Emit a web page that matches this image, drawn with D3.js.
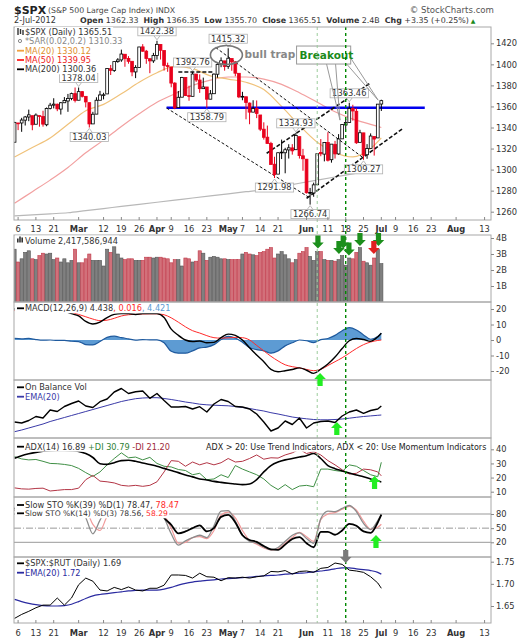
<!DOCTYPE html>
<html>
<head>
<meta charset="utf-8">
<script src="https://cdn.jsdelivr.net/npm/d3@7/dist/d3.min.js"></script>
<style>
  body { margin: 0; background: #fff; }
  svg text { font-family: "DejaVu Sans", Verdana, sans-serif; }
</style>
</head>
<body>
<svg id="chart" width="529" height="640"></svg>
<script>
// ---------------- data ----------------
var holidays = ["2012-02-20", "2012-04-06", "2012-05-28", "2012-07-04"];
var prevClose = 1325.5;   // close before the first bar (Feb 2)

// daily OHLC, Feb 3 .. Jul 2 2012
var priceOpen = [1326,1344.3,1344.3,1347,1350,1351.2,1343.1,1351.3,1350.5,1342.6,1358.1,1361.2,1362.1,1357.5,1363.5,1365.2,1367.6,1372.2,1365.9,1374.1,
  1369.6,1363.6,1343.4,1352.7,1365.9,1370.8,1371.9,1395.9,1394.2,1402.6,1404.2,1409.6,1405.5,1402.9,1392.8,1397.1,1416.6,1412.5,1405.4,1403.3,
  1408.5,1418.9,1413.1,1398.8,1397.5,1382.2,1358.9,1368.8,1387.6,1370.3,1369.6,1390.8,1385.1,1376.9,1378.5,1366.9,1372.1,1390.6,1400.2,1403.3,
  1397.9,1405.5,1402.3,1391.5,1368.8,1369.2,1363.2,1354.6,1358.1,1351.9,1338.4,1330.8,1324.8,1305.1,1295.7,1316.1,1316,1318.7,1320.6,1318.9,
  1331.3,1313.1,1309.9,1278.3,1277.8,1285.6,1316.2,1314.7,1325.7,1309.4,1324,1314.9,1329.2,1342.4,1344.8,1358,1355.4,1325.9,1334.9,1314.1,
  1320.1,1331.5,1330.1,1362.3];
var priceHigh = [1345.3,1344.4,1349.2,1351,1357,1351.2,1353.4,1351.3,1355.9,1359,1363.4,1367.8,1362.7,1364.2,1368.9,1371.9,1373.1,1378,1378,1374.5,
  1369.6,1363.6,1354.9,1368.7,1374.8,1373,1396.1,1399.4,1402.6,1405.9,1414,1409.6,1407.8,1402.9,1399.2,1416.6,1419.2,1413.7,1405.4,1410.9,
  1422.4,1419.1,1413.1,1401.6,1397.5,1383,1374.7,1388.1,1387.6,1379.7,1392.8,1390.8,1390.5,1387.4,1378.5,1375.6,1391.4,1402.1,1406.6,1403.3,
  1415.3,1405.5,1403.1,1391.5,1373.9,1369.2,1363.7,1365.9,1365.7,1351.9,1344.9,1341.8,1326.4,1312.2,1316.4,1328.5,1320.7,1324.1,1324.2,1334.9,
  1331.3,1319.7,1309.9,1282.6,1287.6,1315.1,1329,1325.8,1335.5,1324.3,1327.3,1333.7,1343.3,1348.2,1363.5,1361.6,1358.3,1337.8,1334.9,1324.2,
  1334.4,1331.5,1362.2,1366.4];
var priceLow = [1326,1337.5,1335.9,1341.9,1346,1337.4,1343.1,1340.8,1340.8,1341.2,1357.2,1358.1,1355.5,1352.3,1363.5,1354.9,1365.9,1363.8,1365.9,1368.5,
  1359.1,1340,1343.4,1352.7,1365.9,1366.7,1371.9,1389.9,1392.8,1401.5,1402.4,1397.7,1400.6,1388.7,1386.9,1397.1,1411.9,1400.5,1391.6,1401.4,
  1404.5,1404.6,1394.1,1392.9,1378.2,1357.4,1358.9,1368.8,1369.9,1365.4,1369.6,1383.3,1372.9,1376.9,1358.8,1366.8,1372.1,1387.3,1397.3,1394,
  1395.7,1393.9,1388.7,1367.9,1365.9,1347.8,1343.1,1354.6,1348.9,1336.6,1328.5,1324.8,1304.9,1292,1295.7,1310,1296.5,1310.5,1314.2,1318.9,
  1310.5,1298.9,1277.3,1266.7,1274.2,1285.6,1312.7,1307.8,1307.7,1306.6,1310.5,1314.1,1329.2,1338.6,1344.8,1346.5,1324.4,1325.9,1309.3,1310.3,
  1320.1,1313.3,1330.1,1355.7];
var priceClose = [1344.9,1344.3,1347.1,1350,1352,1342.6,1351.8,1350.5,1343.2,1358,1361.2,1362.2,1357.7,1363.5,1365.7,1367.6,1372.2,1365.7,1374.1,1369.6,
  1364.3,1343.4,1352.6,1365.9,1370.9,1371.1,1396,1394.3,1402.6,1404.2,1409.8,1405.5,1402.9,1392.8,1397.1,1416.5,1412.5,1405.5,1403.3,1408.5,
  1419,1413.4,1399,1398.1,1382.2,1358.6,1368.7,1387.6,1370.3,1369.6,1390.8,1385.1,1376.9,1378.5,1366.9,1372,1390.7,1400,1403.4,1397.9,
  1405.8,1402.3,1391.6,1369.1,1369.6,1363.7,1354.6,1358,1353.4,1338.4,1330.7,1324.8,1304.9,1295.2,1316,1316.6,1318.9,1320.7,1317.8,1332.4,
  1313.3,1310.3,1278,1278.2,1285.5,1315.1,1315,1325.7,1308.9,1324.2,1314.9,1329.1,1342.8,1344.8,1358,1355.7,1325.5,1335,1313.7,1320,
  1331.9,1329,1362.2,1365.5];
// daily volume in billions
var volume = [3.3,2.5,2.7,3.1,3.2,2.7,2.65,2.9,3.05,3.0,3.05,2.65,2.75,2.5,2.7,2.45,2.6,3.3,2.45,2.45,
  2.7,3.0,2.6,2.6,2.6,2.25,3.3,3.1,3.45,3.0,2.75,2.65,2.7,2.7,2.6,2.6,2.6,2.8,2.8,2.75,
  2.8,2.8,2.75,2.7,2.45,2.65,2.65,2.25,2.75,2.7,2.5,2.55,3.2,3.05,2.6,2.8,2.85,2.8,2.7,2.7,
  2.65,2.65,2.65,2.65,3.0,3.1,3.0,2.95,2.9,3.1,3.15,3.3,3.4,2.75,3.0,3.15,2.95,2.7,2.45,2.65,
  3.05,3.15,3.4,2.85,2.6,3.15,3.15,2.65,2.6,2.6,2.55,2.65,2.9,2.3,2.75,2.7,3.1,3.4,2.55,2.45,
  2.3,2.75,3.3,2.4];

// moving averages, one value every fifth session
var maDays = d3.range(-1, 100, 5).concat([102]);
var ma20 = [1312,1321,1330,1343,1356,1362,1372,1383,1392,1398,1396,1389,1386,1383,1376,1360,1342,1326,1316,1312,1320,1330.1];
var ma50 = [1268,1279,1290,1302,1316,1328,1341,1353,1364,1372,1380,1385,1388,1388,1386,1381,1373,1364,1355,1348,1343,1340];
var ma200 = [1256,1257,1258,1259,1261,1263,1265,1267,1269,1271,1273,1275,1277,1279,1281,1284,1287,1290,1293,1296,1299,1300.4];

// indicators, one value every second session
var knotDays = d3.range(-1, 102, 2).concat([102]);
var macdLine = [20,20,20.5,20,19.5,19.5,19,18.5,17,15.5,12,10.3,11.5,14.5,16.5,17,17,16.5,17,17,
  17,14.5,7,3,0,-1,-0.6,-1.8,-1.5,1.5,3.8,3,0,-5,-9.7,-14,-19,-20.5,-19.8,-19,
  -18,-19.5,-21.5,-18.8,-15.5,-11,-5.5,-0.5,1,0.3,-0.8,2,4.4];
var macdSignal = [19,19.3,19.5,19.7,19.6,19.5,19.3,18.8,17.8,16.5,15,13.5,12.5,12.8,14,15.5,16.3,16.6,16.8,16.9,
  16.9,16.3,14.3,11.5,8.5,6,4.5,2.8,1.5,1.2,1.4,1.7,1.5,0,-3.5,-7,-10.5,-13.5,-16,-17.2,
  -18,-19,-19.8,-19,-16.5,-14,-11.5,-8.5,-5.5,-3,-1.3,-0.3,0];
var obv = [17,16,18.5,22.5,21,29,27.5,32.5,35.5,38,33,31.5,37.3,40,47,50.5,45.5,47.3,48,40.7,
  45.5,38.5,32,32,32.5,30,32.3,27,35,39.5,37.5,32.5,32,30,25,17,8,11,18,14.5,
  21,11,16,17.5,18,16.5,23,27,29,25.7,28.5,30,33];
var obvEma = [7.3,9,11,13,15,17.5,19.5,21.5,23.5,25.5,27.5,29.5,31.5,33.5,35.5,37.5,39,40.3,41,41.3,
  41.3,40.5,39.5,38.3,37,36,34.8,34.2,33.8,33.5,33.2,32.5,31.5,30.5,29.2,28,26.3,25,23.5,22,
  21,20.2,19.5,19.2,19.2,19.5,20,20.8,21.7,22.5,23.1,23.7,24];
var adx = [33.6,35.5,36.8,37.8,38.6,39,39.2,39.2,39,38.5,37,34.2,29.8,29.3,30.5,32,32.2,31.5,30.3,29.2,
  28,26.5,25,23.5,21.8,20.5,19,18.3,17.3,16.6,16,15.5,15,15.5,18.5,24,28.5,31,32.5,33.5,
  34.5,35.5,37,33.5,28.5,26.3,24.7,23.2,21.8,20.6,19,17.5,16.9];
var plusDI = [34.8,33.2,32.5,32.8,31.5,30,29.8,29.3,28.5,26.5,23.5,20.8,24,29,33.5,37.5,34,34.5,32.5,34.3,
  30,28,27.5,25.7,25,22,23,18.5,19,22,20,28.5,26,24,22,19,14.5,11.5,15,11.5,
  14,14.5,13.5,26,26,25,24.3,29,28,25,22,20.6,30.8];
var minusDI = [12.7,12,11.8,12.3,12.5,10.5,11,11.5,11.5,12.5,18.5,21.5,17.5,17,16.2,14.5,14,14.5,13.8,14.5,
  17,24,32,31.5,28,31,29,30.5,29,30.5,33.5,31,31.5,33.5,36,33,34,33.8,36,37.5,
  40,37,38.3,36,32,29,25.5,22.5,23,26,25.5,24,21.2];
var stoK39 = [92,90,93,91,95,94,96,95,97,98,90,82,86,95,96,98,95,93,97,94,
  96,72,57,39,43,50,56,43,50,74,78,62,35,25,21,12,5,4,15,27,
  31,18,9.5,42,42,36,45,59,55,43,40,62,78.5];
var stoK14 = [88,82,90,85,93,90,94,88,92,95,72,38,67,90,92,96,85,80,92,85,
  94,72,38,14,23,30,35,30,55,86,87,65,35,22,18,10,4,9,22,35,
  40,28,18,70,86,85,92,98,85,60,47,66,78.6];
var stoD3 = [88,85,87,88,90,91,92,91,91,93,88,58,45,75,90,93,90,84,88,88,
  90,78,50,18,20,30,32,28,45,78,84,72,45,24,16,8,4,6,18,30,
  41,32,22,68,80,83,90,96,88,65,48,52,58.3];
var spxRut = [1.622,1.631,1.638,1.646,1.652,1.652,1.668,1.652,1.668,1.698,1.713,1.706,1.686,1.684,1.692,1.687,1.693,1.686,1.684,1.69,
  1.69,1.697,1.72,1.72,1.719,1.713,1.724,1.716,1.715,1.707,1.714,1.713,1.715,1.713,1.716,1.718,1.728,1.727,1.73,1.722,
  1.728,1.729,1.726,1.735,1.737,1.747,1.744,1.731,1.729,1.726,1.716,1.702,1.69];
var spxRutEma = [1.665,1.66,1.656,1.653,1.651,1.65,1.65,1.651,1.654,1.66,1.667,1.673,1.676,1.678,1.68,1.682,1.684,1.685,1.686,1.686,
  1.686,1.688,1.692,1.697,1.701,1.704,1.706,1.708,1.709,1.711,1.712,1.713,1.714,1.715,1.717,1.718,1.719,1.72,1.722,1.723,
  1.724,1.725,1.727,1.729,1.731,1.734,1.736,1.736,1.734,1.732,1.73,1.726,1.722];

// date axis
var tickDates = ["2012-02-06","2012-02-13","2012-02-21","2012-03-01","2012-03-12","2012-03-19","2012-03-26","2012-04-02","2012-04-09",
  "2012-04-16","2012-04-23","2012-05-01","2012-05-07","2012-05-14","2012-05-21","2012-06-01","2012-06-11","2012-06-18","2012-06-25",
  "2012-07-02","2012-07-09","2012-07-16","2012-07-23","2012-08-01","2012-08-13"];
var tickLabels = ["6","13","21","Mar","12","19","26","Apr","9","16","23","May","7","14","21","Jun","11","18","25","Jul","9","16","23","Aug","13"];

// annotations (session date, price)
var peakLabels = [["2012-04-02",1422.38,"up"],["2012-05-01",1415.32,"up"],["2012-04-17",1392.76,"up"],["2012-03-01",1378.04,"up"],
  ["2012-03-06",1340.03,"down"],["2012-04-23",1358.79,"down"],["2012-05-29",1334.93,"up"],["2012-06-19",1363.46,"up"],
  ["2012-05-18",1291.98,"down"],["2012-06-04",1266.74,"down"],["2012-06-25",1309.27,"down"]];
// dashed trend lines: [fromSession, fromPrice, toSession, toPrice] in session index units
var trendLines = [[45, 1392.76, 55, 1392.76], [55.5, 1416, 97, 1311], [41.7, 1358.5, 81.5, 1274],
  [69.8, 1315.5, 98.8, 1382], [81, 1272.7, 108, 1339]];
var supportLine = [41.7, 114.2, 1358.8];
var markerDates = [["2012-06-06", "#9ccc9c", 1], ["2012-06-18", "#008800", 1.4]];

// ---------------- layout ----------------
var svg = d3.select("#chart");
var left = 14, right = 491;
var panels = {
  price: {top: 27, bottom: 220},
  vol:   {top: 235, bottom: 302},
  macd:  {top: 302, bottom: 380},
  obv:   {top: 380, bottom: 438},
  adx:   {top: 438, bottom: 497},
  sto:   {top: 497, bottom: 557},
  ratio: {top: 557, bottom: 623}
};

var fmt = d3.utcFormat("%Y-%m-%d");
var sessions = d3.utcDay.range(new Date("2012-02-03"), new Date("2012-09-01"))
  .filter(function(d){ return d.getUTCDay() % 6 !== 0 && holidays.indexOf(fmt(d)) < 0; })
  .map(fmt);
function dayIndex(s){ return sessions.indexOf(s) - 1; }

var x = d3.scaleLinear().domain([-1.15, 132.8]).range([left, right]);
var yP = d3.scaleLinear().domain([1260, 1420]).range([211.7, 43.3]);
var yV = d3.scaleLinear().domain([0, 4]).range([302, 238]);
var yM = d3.scaleLinear().domain([-20, 20]).range([371, 309]);
var yO = d3.scaleLinear().domain([0, 58]).range([439, 381]);
var yA = d3.scaleLinear().domain([10, 40]).range([491.7, 449.3]);
var yS = d3.scaleLinear().domain([20, 80]).range([542.3, 514]);
var yR = d3.scaleLinear().domain([1.65, 1.75]).range([606, 561.7]);

var defs = svg.append("defs");
var layers = {};
Object.keys(panels).forEach(function(name){
  var p = panels[name];
  defs.append("clipPath").attr("id", "clip-" + name)
    .append("rect").attr("x", left).attr("y", p.top).attr("width", right - left).attr("height", p.bottom - p.top);
  layers[name] = svg.append("g").attr("clip-path", "url(#clip-" + name + ")");
});

function knotLine(g, days, vals, y, color, width, curve){
  g.append("path")
    .datum(days.map(function(d, k){ return [d, vals[k]]; }))
    .attr("fill", "none")
    .attr("stroke", color)
    .attr("stroke-width", width)
    .attr("stroke-linejoin", "round")
    .attr("d", d3.line().x(function(p){ return x(p[0]); }).y(function(p){ return y(p[1]); }).curve(curve || d3.curveMonotoneX));
}

// ---------------- price panel ----------------
var gp = layers.price;
knotLine(gp, maDays, ma200, yP, "#b8b8b8", 1.2);
knotLine(gp, maDays, ma50, yP, "#f2a0a0", 1.2);
knotLine(gp, maDays, ma20, yP, "#f0c27a", 1.2);

gp.append("line")
  .attr("x1", x(supportLine[0])).attr("x2", x(supportLine[1]))
  .attr("y1", yP(supportLine[2])).attr("y2", yP(supportLine[2]))
  .attr("stroke", "#0000ee").attr("stroke-width", 2.5);

gp.selectAll("line.trend").data(trendLines).enter().append("line")
  .attr("class", "trend")
  .attr("x1", function(d){ return x(d[0]); }).attr("y1", function(d){ return yP(d[1]); })
  .attr("x2", function(d){ return x(d[2]); }).attr("y2", function(d){ return yP(d[3]); })
  .attr("stroke", "#111").attr("stroke-width", function(d, k){ return k === 1 || k === 2 ? 1 : 1.6; })
  .attr("stroke-dasharray", function(d, k){ return k === 1 || k === 2 ? "3,2" : "4,2"; });

var candles = priceClose.map(function(c, k){
  var prev = k === 0 ? prevClose : priceClose[k - 1];
  return {day: k - 1, o: priceOpen[k], h: priceHigh[k], l: priceLow[k], c: c,
    color: c >= prev ? "#000" : "#e8001c"};
});
gp.selectAll("line.wick").data(candles).enter().append("line")
  .attr("class", "wick")
  .attr("x1", function(d){ return x(d.day); }).attr("x2", function(d){ return x(d.day); })
  .attr("y1", function(d){ return yP(d.h); }).attr("y2", function(d){ return yP(d.l); })
  .attr("stroke", function(d){ return d.color; }).attr("stroke-width", 1);
gp.selectAll("rect.body").data(candles).enter().append("rect")
  .attr("class", "body")
  .attr("x", function(d){ return x(d.day) - 1.4; })
  .attr("width", 2.8)
  .attr("y", function(d){ return yP(Math.max(d.o, d.c)); })
  .attr("height", function(d){ return Math.max(0.8, Math.abs(yP(d.o) - yP(d.c))); })
  .attr("fill", function(d){ return d.c > d.o ? "#fff" : d.color; })
  .attr("stroke", function(d){ return d.color; }).attr("stroke-width", 0.8);

// peak / trough labels
peakLabels.forEach(function(pl){
  var cx = x(dayIndex(pl[0])), py = yP(pl[1]);
  var g = gp.append("g");
  var t = g.append("text").attr("x", cx).attr("text-anchor", "middle")
    .attr("font-family", "Liberation Sans, Arial, sans-serif").attr("font-size", 8.3).attr("fill", "#333")
    .text(pl[1].toFixed(2));
  var w = t.node().getComputedTextLength() + 4, h = 9;
  var top = pl[2] === "up" ? py - 5 - h : py + 5;
  var edge = pl[2] === "up" ? top + h : top;
  g.insert("path", "text")
    .attr("d", "M" + (cx - 3) + "," + edge + "L" + cx + "," + (pl[2] === "up" ? py - 1 : py + 1) + "L" + (cx + 3) + "," + edge)
    .attr("fill", "#fff").attr("stroke", "#aaa").attr("stroke-width", 0.8);
  g.insert("rect", "text").attr("x", cx - w / 2).attr("y", top).attr("width", w).attr("height", h)
    .attr("fill", "#fff").attr("stroke", "#b0b0b0").attr("stroke-width", 0.8);
  t.attr("y", top + 7.4);
});

// bull trap circle
gp.append("ellipse").attr("cx", x(58.5)).attr("cy", yP(1408.9)).attr("rx", 16).attr("ry", 9.5)
  .attr("fill", "none").attr("stroke", "#777").attr("stroke-width", 1.6);
gp.append("text").attr("x", x(63.6)).attr("y", yP(1405.6))
  .attr("font-size", 10.5).attr("font-weight", "bold").attr("fill", "#888").text("bull trap");

// breakout callout
var bx0 = x(78.2), bx1 = x(93.4), by0 = yP(1417.4), by1 = yP(1400.3);
gp.append("path")
  .attr("d", "M" + (bx0 + 30) + "," + by1 + "L" + x(90.4) + "," + yP(1347) + "L" + (bx0 + 39) + "," + by1)
  .attr("fill", "none").attr("stroke", "#999").attr("stroke-width", 1);
gp.append("path")
  .attr("d", "M" + (bx1 - 4) + "," + by1 + "L" + x(101.1) + "," + yP(1366) + "L" + bx1 + "," + (by1 - 6))
  .attr("fill", "none").attr("stroke", "#999").attr("stroke-width", 1);
gp.append("rect").attr("x", bx0).attr("y", by0).attr("width", bx1 - bx0).attr("height", by1 - by0)
  .attr("fill", "#fff").attr("stroke", "#999").attr("stroke-width", 1);
gp.append("text").attr("x", bx0 + 3).attr("y", by1 - 5)
  .attr("font-size", 10.5).attr("font-weight", "bold").attr("fill", "#1a8a1a").text("Breakout");

// ---------------- volume panel ----------------
var gv = layers.vol;
gv.selectAll("rect").data(candles).enter().append("rect")
  .attr("x", function(d){ return x(d.day) - 1.6; })
  .attr("width", 3.2)
  .attr("y", function(d){ return yV(volume[d.day + 1]); })
  .attr("height", function(d){ return yV(0) - yV(volume[d.day + 1]); })
  .attr("fill", function(d){ return d.color === "#000" ? "#808080" : "#d2707a"; })
  .attr("stroke", function(d){ return d.color === "#000" ? "#555" : "#c03848"; })
  .attr("stroke-width", 0.6);

// ---------------- MACD panel ----------------
var gm = layers.macd;
var histPts = knotDays.map(function(d, k){ return [d, macdLine[k] - macdSignal[k]]; });
gm.append("path").datum(histPts)
  .attr("fill", "#5d9bd3").attr("stroke", "none")
  .attr("d", d3.area().x(function(p){ return x(p[0]); }).y0(yM(0)).y1(function(p){ return yM(p[1]); }).curve(d3.curveMonotoneX));
gm.append("path").datum(histPts)
  .attr("fill", "none").attr("stroke", "#1f5a9e").attr("stroke-width", 1.2)
  .attr("d", d3.line().x(function(p){ return x(p[0]); }).y(function(p){ return yM(p[1]); }).curve(d3.curveMonotoneX));
knotLine(gm, knotDays, macdSignal, yM, "#ff2a2a", 1);
knotLine(gm, knotDays, macdLine, yM, "#000", 1.4);

// ---------------- OBV panel ----------------
knotLine(layers.obv, knotDays, obvEma, yO, "#3a3aa8", 1);
knotLine(layers.obv, knotDays, obv, yO, "#000", 1.4, d3.curveLinear);

// ---------------- ADX panel ----------------
knotLine(layers.adx, knotDays, plusDI, yA, "#3f8f45", 1, d3.curveLinear);
knotLine(layers.adx, knotDays, minusDI, yA, "#b33545", 1, d3.curveLinear);
knotLine(layers.adx, knotDays, adx, yA, "#000", 1.6);

// ---------------- STO panel ----------------
var gs = layers.sto;
[[80, null], [20, null], [50, "7,2,1,2"]].forEach(function(lv){
  gs.append("line").attr("x1", left).attr("x2", right).attr("y1", yS(lv[0])).attr("y2", yS(lv[0]))
    .attr("stroke", "#999").attr("stroke-width", 1).attr("stroke-dasharray", lv[1]);
});
knotLine(gs, knotDays, stoD3, yS, "#f29a9a", 1.2);
knotLine(gs, knotDays, stoK14, yS, "#8c8c8c", 1.3);
knotLine(gs, knotDays, stoK39, yS, "#000", 1.8);

// ---------------- SPX:RUT panel ----------------
knotLine(layers.ratio, knotDays, spxRutEma, yR, "#2a2aa0", 1.2);
knotLine(layers.ratio, knotDays, spxRut, yR, "#000", 1, d3.curveLinear);

// ---------------- marker lines, frames ----------------
markerDates.forEach(function(m){
  svg.append("line").attr("x1", x(dayIndex(m[0]))).attr("x2", x(dayIndex(m[0])))
    .attr("y1", panels.price.top).attr("y2", panels.ratio.bottom)
    .attr("stroke", m[1]).attr("stroke-width", m[2]).attr("stroke-dasharray", "3,3");
});

Object.keys(panels).forEach(function(name){
  var p = panels[name];
  svg.append("rect").attr("x", left).attr("y", p.top).attr("width", right - left).attr("height", p.bottom - p.top)
    .attr("fill", "none").attr("stroke", "#a8a8a8").attr("stroke-width", 1);
});

// right axes
function rightAxis(y, values, format){
  var g = svg.append("g").attr("transform", "translate(" + right + ",0)")
    .call(d3.axisRight(y).tickValues(values).tickSize(3).tickPadding(2).tickFormat(format));
  g.select(".domain").remove();
  g.selectAll("line").attr("stroke", "#888");
  g.selectAll("text").attr("font-size", 8.3).attr("fill", "#333").attr("font-family", "DejaVu Sans, Verdana, sans-serif");
}
rightAxis(yP, d3.range(1260, 1421, 20), function(d){ return d; });
rightAxis(yV, [1, 2, 3, 4], function(d){ return d + "B"; });
rightAxis(yM, [-20, -10, 0, 10, 20], function(d){ return String(d); });
rightAxis(yA, [10, 20, 30, 40], function(d){ return d; });
rightAxis(yS, [20, 50, 80], function(d){ return d; });
rightAxis(yR, [1.65, 1.70, 1.75], d3.format(".2f"));

// date labels
[[panels.price.bottom, 232], [panels.ratio.bottom, 636]].forEach(function(row){
  tickDates.forEach(function(td, k){
    var tx = x(dayIndex(td));
    svg.append("line").attr("x1", tx).attr("x2", tx).attr("y1", row[0]).attr("y2", row[0] - 3).attr("stroke", "#888");
    svg.append("text").attr("x", tx).attr("y", row[1]).attr("text-anchor", "middle")
      .attr("font-size", 8.3).attr("fill", "#333")
      .attr("font-weight", isNaN(+tickLabels[k]) ? "bold" : null)
      .text(tickLabels[k]);
  });
});

// ---------------- arrows ----------------
function blockArrow(cx, tipY, dir, color){
  var s = dir === "down" ? -1 : 1;
  var pts = [[cx - 2.6, tipY + s * 13], [cx + 2.6, tipY + s * 13], [cx + 2.6, tipY + s * 6], [cx + 5.8, tipY + s * 6],
             [cx, tipY], [cx - 5.8, tipY + s * 6], [cx - 2.6, tipY + s * 6]];
  svg.append("path").attr("d", "M" + pts.join("L") + "Z").attr("fill", color);
}
[[84.2, 3.35], [90.1, 3.0], [91.3, 3.35], [92.9, 2.9], [96, 3.5], [101.2, 3.5]].forEach(function(a){
  blockArrow(x(a[0]), yV(a[1]), "down", "#1c8f1c");
});
blockArrow(x(99.9), yV(3.0), "down", "#e02020");
blockArrow(x(84.8), yM(-21.3), "up", "#22ee22");
blockArrow(x(89.5), yO(17), "up", "#22ee22");
blockArrow(x(100.1), yA(21.1), "up", "#22ee22");
blockArrow(x(100.5), yS(35.5), "up", "#22ee22");
blockArrow(x(92), yR(1.747), "down", "#7a7a7a");

// ---------------- legends ----------------
function legend(lx, ly, key, parts, size){
  var g = svg.append("g");
  var t = g.append("text").attr("x", lx + 9).attr("y", ly).attr("font-size", size || 8.2);
  parts.forEach(function(p){
    t.append("tspan").attr("fill", p[1]).attr("font-weight", p[2] ? "bold" : null).text(p[0]);
  });
  var bb = t.node().getBBox();
  g.insert("rect", "text").attr("x", lx - 1).attr("y", bb.y).attr("width", bb.x + bb.width - lx + 2).attr("height", bb.height)
    .attr("fill", "#fff");
  if (key) {
    g.append("line").attr("x1", lx + 1).attr("x2", lx + 8).attr("y1", ly - 3).attr("y2", ly - 3)
      .attr("stroke", key).attr("stroke-width", 1.8);
  }
  return g;
}
var L = left + 2;
var g0 = legend(L, 35, null, [["$SPX (Daily) 1365.51", "#333"]]);
[0, 2.5, 5].forEach(function(dx, k){
  g0.append("line").attr("x1", L + 2 + dx).attr("x2", L + 2 + dx).attr("y1", 28 + k).attr("y2", 35 - k % 2)
    .attr("stroke", "#333").attr("stroke-width", 1.4);
});
var g1 = legend(L, 44, null, [["*SAR(0.02,0.2) 1310.33", "#888"]]);
g1.append("circle").attr("cx", L + 4).attr("cy", 41).attr("r", 1.6).attr("fill", "none").attr("stroke", "#888");
legend(L, 53.7, "#f0a040", [["MA(20) 1330.12", "#e09030"]]);
legend(L, 63, "#ff2020", [["MA(50) 1339.95", "#ee2020"]]);
legend(L, 72.3, "#000", [["MA(200) 1300.36", "#333"]]);

var gvl = legend(L, 243.5, null, [["Volume 2,417,586,944", "#333"]]);
[[0, 4], [2.2, 6], [4.4, 5]].forEach(function(b){
  gvl.append("rect").attr("x", L + 1 + b[0]).attr("y", 242.5 - b[1]).attr("width", 1.6).attr("height", b[1]).attr("fill", "#333");
});

legend(L, 311.3, "#000", [["MACD(12,26,9) 4.438", "#333"], [", 0.016", "#ff2a2a"], [", 4.421", "#5d9bd3"]]);
legend(L, 390.3, "#000", [["On Balance Vol", "#333"]]);
legend(L, 399.7, "#3a3aa8", [["EMA(20)", "#3a3aa8"]]);
legend(L, 449.7, "#000", [["ADX(14) 16.89 ", "#333"], ["+DI 30.79 ", "#2f7f35"], ["-DI 21.20", "#a02a3a"]]);
legend(197, 449.7, null, [["ADX > 20: Use Trend Indicators, ADX < 20: Use Momentum Indicators", "#222"]], 8);
legend(L, 508, "#000", [["Slow STO %K(39) %D(1) 78.47, ", "#333"], ["78.47", "#ff2a2a"]]);
legend(L, 516.3, "#000", [["Slow STO %K(14) %D(3) 78.56, ", "#333"], ["58.29", "#ff2a2a"]], 7.6);
legend(L, 566.3, "#000", [["$SPX:$RUT (Daily) 1.69", "#333"]]);
legend(L, 575.7, "#2a2aa0", [["EMA(20) 1.72", "#2a2aa0"]]);

// ---------------- header ----------------
svg.append("text").attr("x", 14).attr("y", 13.5).attr("font-size", 11).attr("font-weight", "bold").attr("fill", "#222").text("$SPX");
svg.append("text").attr("x", 48).attr("y", 12.5).attr("font-size", 7.8).attr("fill", "#444")
  .text("(S&P 500 Large Cap Index) INDX");
svg.append("text").attr("x", 494).attr("y", 12.5).attr("text-anchor", "end").attr("font-size", 8.6).attr("fill", "#555")
  .text("© StockCharts.com");
svg.append("text").attr("x", 14).attr("y", 23).attr("font-size", 8.1).attr("fill", "#333").text("2-Jul-2012");
var hdr = svg.append("text").attr("x", 80).attr("y", 23).attr("font-size", 7.9).attr("fill", "#333");
[["Open", true], [" 1362.33  "], ["High", true], [" 1366.35  "], ["Low", true], [" 1355.70  "], ["Close", true],
 [" 1365.51  "], ["Volume", true], [" 2.4B  "], ["Chg", true], [" +3.35 (+0.25%)"]].forEach(function(p){
  hdr.append("tspan").attr("font-weight", p[1] ? "bold" : null).attr("xml:space", "preserve").text(p[0]);
});
hdr.append("tspan").attr("fill", "#1a8a1a").attr("font-size", 6).text(" ▲");
</script>
</body>
</html>
